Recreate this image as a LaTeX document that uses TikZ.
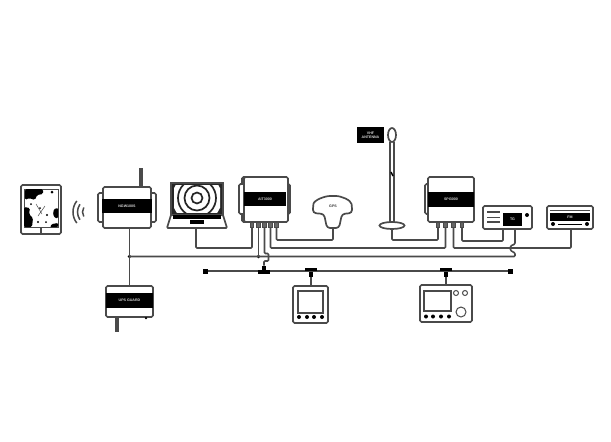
\documentclass[tikz,border=0pt]{standalone}
\usepackage{fontspec}
\setsansfont{Liberation Sans}
\usetikzlibrary{calc, positioning, shapes}
\definecolor{linegray}{HTML}{4A4A4A}
\tikzset{
    cable/.style={draw=linegray, line width=1.6pt, rounded corners=1pt},
    casing/.style={draw=linegray, line width=1.7pt, fill=white, rounded corners=1.5pt, inner sep=0pt, outer sep=0pt},
    band/.style={fill=black, inner sep=0pt, outer sep=0pt, text=white!85!black, font=\sffamily\bfseries\fontsize{3.6}{4}\selectfont, align=center},
    port/.style={draw=linegray, line width=0.9pt, fill=black!60, minimum width=3.5pt, minimum height=5pt, inner sep=0pt, outer sep=0pt},
    knob/.style={circle, fill=black, minimum size=4pt, inner sep=0pt, outer sep=0pt},
    ring/.style={circle, draw=linegray, line width=1pt, fill=white, inner sep=0pt, outer sep=0pt},
    endstop/.style={fill=black, minimum size=5pt, inner sep=0pt, outer sep=0pt},
    teebar/.style={fill=black, minimum width=12pt, minimum height=3.5pt, inner sep=0pt, outer sep=0pt},
    teestem/.style={fill=black, minimum width=4.5pt, minimum height=5pt, inner sep=0pt, outer sep=0pt},
}
\begin{document}
\begin{tikzpicture}[x=1pt, y=-1pt]
    \useasboundingbox (0,0) rectangle (611,442);

    % tablet
    \node[casing, minimum width=40pt, minimum height=49pt] (tablet) at (41,209.5) {};
    \node[draw=linegray, line width=1pt, inner sep=0pt, outer sep=0pt, minimum width=34pt, minimum height=38pt] (tabletscreen) at (41,208) {};
    \fill[black, rounded corners=1.5pt] (25,189) -- (43,189) -- (43,194) -- (37,195) -- (35,200) -- (29,198) -- (25,200) -- cycle;
    \fill[black, rounded corners=1.5pt] (24,207) -- (30,208) -- (29,214) -- (33,218) -- (32,227) -- (24,227) -- cycle;
    \fill[black, rounded corners=1pt] (58,208) -- (54,209) -- (53,214) -- (55,218) -- (58,218) -- cycle;
    \fill[black, rounded corners=1pt] (58,223) -- (52,224) -- (50,227) -- (58,227) -- cycle;
    \fill[black] (52,192) circle (1.5) (31,204) circle (1) (40,208) circle (1) (47,215) circle (1.2) (38,222) circle (1.2) (46,222) circle (1);
    \draw[linegray, line width=0.5pt] (36,204) -- (42,214) (45,206) -- (38,216);
    \draw[linegray, line width=1.2pt] (41,227) -- (41,234);

    % wifi
    \coordinate (wifi) at (91,212);
    \draw[linegray, line width=1.5pt] (wifi) ++(142:18) arc (142:218:18);
    \draw[linegray, line width=1.5pt] (wifi) ++(145:13.5) arc (145:215:13.5);
    \draw[linegray, line width=1.5pt] (wifi) ++(148:8.5) arc (148:212:8.5);

    % router
    \node[casing, minimum width=58pt, minimum height=29pt] (routerlug) at (127,207.5) {};
    \node[fill=linegray, minimum width=4pt, minimum height=19pt, inner sep=0pt, outer sep=0pt] (routerant) at (141,177.5) {};
    \node[casing, minimum width=48pt, minimum height=41pt] (router) at (127,207.5) {};
    \node[band, minimum width=50pt, minimum height=14pt] (routerband) at (127,206) {NGW100S};

    % ups
    \node[casing, minimum width=47pt, minimum height=31pt] (ups) at (129.5,301.5) {};
    \node[band, minimum width=47pt, minimum height=15pt] (upsband) at (129.5,300.5) {UPS GUARD};
    \node[fill=linegray, minimum width=3.5pt, minimum height=15pt, inner sep=0pt, outer sep=0pt] (upsstub) at (117,324.5) {};
    \node[knob, minimum size=2.5pt] (upsfoot) at (146,318) {};

    % laptop
    \node[draw=linegray, line width=2pt, fill=black!85, minimum width=52pt, minimum height=32pt, inner sep=0pt, outer sep=0pt] (laptop) at (197,199) {};
    \begin{scope}
        \clip (174,185) rectangle (220,212);
        \node[circle, fill=white, minimum size=50pt, inner sep=0pt] (ringa) at (197,198) {};
        \node[circle, draw=black!85, line width=1.7pt, fill=white, minimum size=38pt, inner sep=0pt] (ringb) at (197,198) {};
        \node[circle, draw=black!85, line width=1.7pt, fill=white, minimum size=25pt, inner sep=0pt] (ringc) at (197,198) {};
        \node[circle, draw=black!85, line width=1.7pt, fill=white, minimum size=11pt, inner sep=0pt] (ringd) at (197,198) {};
    \end{scope}
    \filldraw[draw=linegray, line width=1.7pt, fill=white, rounded corners=1pt] (171,215) -- (223,215) -- (227,228) -- (167,228) -- cycle;
    \fill[black] (173,215) rectangle (221,219);
    \fill[black] (190,220) rectangle (204,224);
    \coordinate (laptopout) at (196,228);

    % ais unit
    \node[casing, minimum width=45pt, minimum height=45pt] (aitlug) at (264.5,199.5) {};
    \node[casing, minimum width=51pt, minimum height=30pt] (aitside) at (264.5,199) {};
    \node[casing, minimum width=44pt, minimum height=45pt] (ait) at (266,199.5) {};
    \node[band, minimum width=42pt, minimum height=14pt] (aitband) at (265,199) {AIT3000};
    \node[port] (aita) at (252,225) {};
    \node[port] (aitb) at (258.5,225) {};
    \node[port] (aitc) at (264.5,225) {};
    \node[port] (aitd) at (270.5,225) {};
    \node[port] (aite) at (276.5,225) {};

    % gps
    \filldraw[draw=linegray, line width=1.7pt, fill=white, rounded corners=3pt] (313,213) -- (313,207) .. controls (314,200) and (325,196) .. (333,196) .. controls (341,196) and (351,200) .. (352,207) -- (352,213) -- (342,214) -- (339,228) -- (327,228) -- (324,214) -- cycle;
    \node[inner sep=0pt, font=\sffamily\bfseries\fontsize{3.6}{4}\selectfont, text=black!80] (gps) at (333,206) {GPS};
    \coordinate (gpsout) at (333,228);

    % antenna
    \node[band, minimum width=27pt, minimum height=16pt] (vhf) at (370.5,135) {VHF\\ANTENNA};
    \node[ellipse, draw=linegray, line width=1.7pt, fill=white, minimum width=8pt, minimum height=14pt, inner sep=0pt, outer sep=0pt] (vhftop) at (392,135) {};
    \node[ellipse, draw=linegray, line width=1.7pt, fill=white, minimum width=25pt, minimum height=7pt, inner sep=0pt, outer sep=0pt] (vhfbase) at (392,225.5) {};
    \draw[linegray, line width=1.2pt] ($(vhftop.south) + (-2,0)$) -- ($(vhfbase.north) + (-2,0)$);
    \draw[linegray, line width=1.2pt] ($(vhftop.south) + (2,0)$) -- ($(vhfbase.north) + (2,0)$);
    \draw[black, line width=1.5pt] (391,172) -- (393,176);

    % second unit
    \node[casing, minimum width=4pt, minimum height=30pt] (spilug) at (427,199) {};
    \node[casing, minimum width=46pt, minimum height=45pt] (spi) at (451,199.5) {};
    \node[band, minimum width=46pt, minimum height=15pt] (spiband) at (451,199.5) {SPI3000};
    \node[port] (spia) at (438,225) {};
    \node[port] (spib) at (445.5,225) {};
    \node[port] (spic) at (453.5,225) {};
    \node[port] (spid) at (462,225) {};

    % radios
    \node[casing, minimum width=49pt, minimum height=23pt] (tg) at (507.5,217.5) {};
    \draw[linegray, line width=1.1pt] (487,212) -- (500,212) (487,217.5) -- (500,217.5) (487,222) -- (500,222);
    \node[band, minimum width=19pt, minimum height=13pt] (tgband) at (512.5,219) {TG};
    \node[knob] (tgknob) at (527,215) {};
    \node[casing, minimum width=46pt, minimum height=23pt] (fm) at (570,217.5) {};
    \draw[linegray, line width=1pt] (550,210.5) -- (590,210.5);
    \node[band, minimum width=40pt, minimum height=8pt] (fmband) at (570,217) {FM};
    \fill[black] (558,223.5) rectangle (582,225);
    \node[knob] (fmknoba) at (553,224) {};
    \node[knob] (fmknobb) at (587,224) {};

    % displays
    \node[casing, minimum width=35pt, minimum height=37pt] (dispa) at (310.5,304.5) {};
    \node[draw=linegray, line width=1.4pt, inner sep=0pt, outer sep=0pt, minimum width=25pt, minimum height=22pt] (dispascreen) at (310.5,302) {};
    \node[knob] (dispaa) at (299,317) {};
    \node[knob] (dispab) at (307,317) {};
    \node[knob] (dispac) at (314,317) {};
    \node[knob] (dispad) at (322,317) {};
    \node[casing, minimum width=52pt, minimum height=37pt] (dispb) at (446,303.5) {};
    \node[draw=linegray, line width=1.4pt, inner sep=0pt, outer sep=0pt, minimum width=27pt, minimum height=20pt] (dispbscreen) at (437.5,301) {};
    \node[knob] (dispba) at (426,316.5) {};
    \node[knob] (dispbb) at (433,316.5) {};
    \node[knob] (dispbc) at (441,316.5) {};
    \node[knob] (dispbd) at (449,316.5) {};
    \node[ring, minimum size=5pt] (dispbe) at (456,293) {};
    \node[ring, minimum size=5pt] (dispbf) at (465,293) {};
    \node[ring, minimum size=10pt] (dispbg) at (461,312) {};

    % bus
    \node[endstop] (busleft) at (205,271) {};
    \node[endstop] (busright) at (510,271) {};
    \draw[cable] (busleft) -- (busright);
    \node[teebar] (teea) at (264,272) {};
    \node[teestem] (teeastem) at (264,268) {};
    \node[teebar] (teeb) at (311,269.5) {};
    \node[teestem] (teebstem) at (311,274) {};
    \node[teebar] (teec) at (446,269.5) {};
    \node[teestem] (teecstem) at (446,274) {};
    \draw[cable] (teebstem.south) -- (dispa.north -| teebstem.south);
    \draw[cable] (teecstem.south) -- (dispb.north -| teecstem.south);

    % cables
    \coordinate (trunk) at (129.5,256.5);
    \fill[black] (trunk) circle (1.8);
    \fill[black] (258.5,256.5) circle (1.8);
    \draw[cable] (router.south -| trunk) -- (ups.north -| trunk);
    \draw[cable] (trunk) -- (515,256.5) -- (515,253) -- (510.5,250.5) -- (510.5,246) -- (515,244) -- (tg.south -| 515,0);
    \draw[cable] (aitb.south) -- (258.5,256.5);
    \draw[cable] (laptopout) -- (196,248) -- (252,248) -- (aita.south);
    \draw[cable] (aitc.south) -- (264.5,253.5) -- (268.5,253.5) -- (268.5,261) -- (264,261) -- (teeastem.north);
    \draw[cable] (aitd.south) -- (270.5,248) -- (445.5,248) -- (spib.south);
    \draw[cable] (aite.south) -- (276.5,240) -- (333,240) -- (gpsout);
    \draw[cable] (spia.south) -- (438,240) -- (392,240) -- (vhfbase.south);
    \draw[cable] (spic.south) -- (453.5,248) -- (571,248) -- (fm.south -| 571,0);
    \draw[cable] (spid.south) -- (462,241) -- (503,241) -- (tg.south -| 503,0);
\end{tikzpicture}
\end{document}
